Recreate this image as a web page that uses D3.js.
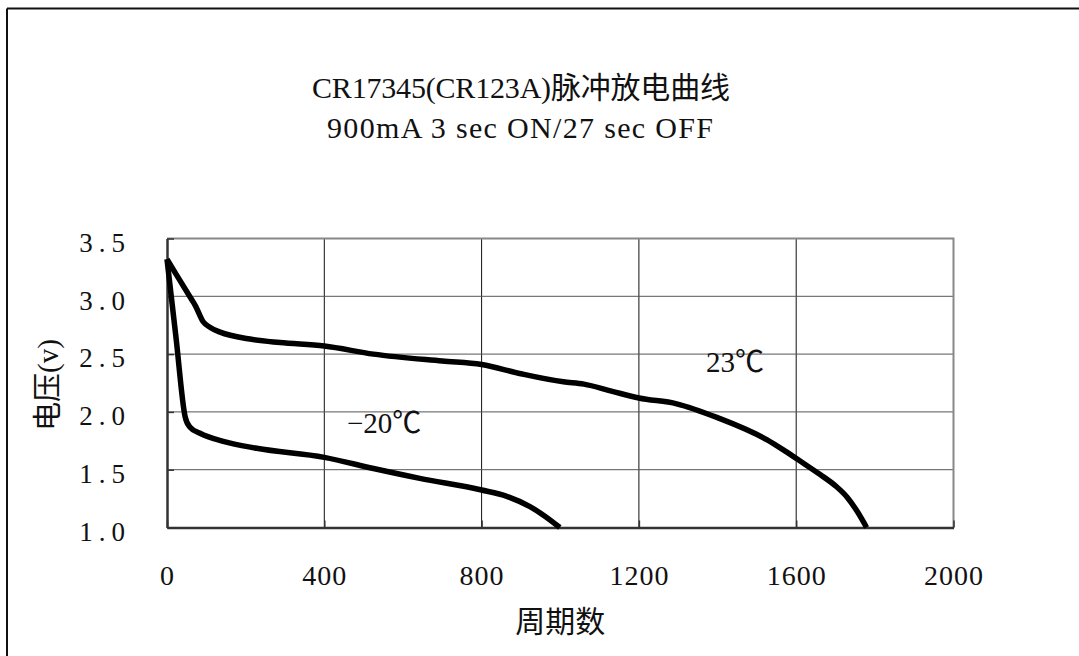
<!DOCTYPE html>
<html>
<head>
<meta charset="utf-8">
<script src="https://cdn.jsdelivr.net/npm/d3@7"></script>
<style>
  body { margin: 0; background: #fff; }
  text { font-family: "Liberation Serif", "Noto Sans CJK SC", serif; fill: #111; }
</style>
</head>
<body>
<div id="chart"></div>
<script>
// 23℃ curve
const cycles23 = [0, 63, 72, 92, 110, 135, 211, 287, 400, 525, 700, 800, 900, 1008, 1060, 1130, 1200, 1296, 1400, 1525, 1570, 1610, 1660, 1700, 1730, 1755, 1779];
const volts23 = [3.32, 2.97, 2.92, 2.78, 2.73, 2.69, 2.63, 2.60, 2.57, 2.50, 2.44, 2.41, 2.33, 2.26, 2.24, 2.18, 2.12, 2.07, 1.95, 1.76, 1.665, 1.575, 1.46, 1.36, 1.26, 1.14, 1.00];
// -20℃ curve
const cyclesM20 = [0, 23, 46, 58, 84, 143, 228, 400, 525, 643, 800, 864, 923, 960, 999];
const voltsM20 = [3.32, 2.64, 1.96, 1.87, 1.815, 1.745, 1.685, 1.607, 1.51, 1.425, 1.324, 1.27, 1.18, 1.10, 1.00];

const xTicks = [0, 400, 800, 1200, 1600, 2000];
const yTicks = [1.0, 1.5, 2.0, 2.5, 3.0, 3.5];

const width = 1079;
const height = 656;
const margin = { top: 238.5, bottom: 128.5, left: 167, right: 125 };

const svg = d3.select('#chart')
    .append('svg')
    .attr('width', width)
    .attr('height', height);

const x = d3.scaleLinear()
    .domain([0, 2000])
    .range([margin.left, width - margin.right - 0.5]);

const y = d3.scaleLinear()
    .domain([1.0, 3.5])
    .range([height - margin.bottom, margin.top]);

// outer frame (only top and left are visible)
svg.append('line')
    .attr('x1', 7).attr('x2', width).attr('y1', 8.5).attr('y2', 8.5)
    .attr('stroke', '#111').attr('stroke-width', 2);
svg.append('line')
    .attr('x1', 7).attr('x2', 7).attr('y1', 8.5).attr('y2', height)
    .attr('stroke', '#111').attr('stroke-width', 2);

// grid
svg.append('g')
    .selectAll('line')
    .data(xTicks.slice(1, -1))
    .join('line')
    .attr('x1', d => x(d)).attr('x2', d => x(d))
    .attr('y1', y(3.5)).attr('y2', y(1.0))
    .attr('stroke', '#111').attr('stroke-width', 1);

svg.append('g')
    .selectAll('line')
    .data(yTicks.slice(1, -1))
    .join('line')
    .attr('x1', x(0)).attr('x2', x(2000))
    .attr('y1', d => y(d)).attr('y2', d => y(d))
    .attr('stroke', '#555').attr('stroke-width', 1);

// top and right border, grey
svg.append('path')
    .attr('d', `M${x(0)},${y(3.5)}H${x(2000)}V${y(1.0)}`)
    .attr('fill', 'none')
    .attr('stroke', '#888')
    .attr('stroke-width', 2);

function xAxis(g) {
    g.attr('transform', `translate(0,${y(1.0)})`)
        .call(d3.axisBottom(x).tickValues(xTicks).tickFormat(d3.format('d')).tickSize(-7).tickSizeOuter(0))
        .call(g => g.select('.domain').attr('stroke', '#333').attr('stroke-width', 2.5))
        .call(g => g.selectAll('.tick line').attr('stroke', '#333').attr('stroke-width', 1.5))
        .call(g => g.selectAll('.tick text')
            .attr('y', 57.5).attr('dy', 0)
            .attr('font-size', 28)
            .attr('letter-spacing', 1)
            .attr('fill', '#111'));
}

function yAxis(g) {
    g.attr('transform', `translate(${x(0)},0)`)
        .call(d3.axisLeft(y).tickValues(yTicks).tickFormat(d3.format('.1f')).tickSize(-7).tickSizeOuter(0).tickPadding(36))
        .call(g => g.select('.domain').attr('stroke', '#333').attr('stroke-width', 2.5))
        .call(g => g.selectAll('.tick line').attr('stroke', '#333').attr('stroke-width', 1.5))
        .call(g => g.selectAll('.tick text')
            .attr('dy', '0.47em')
            .attr('font-size', 27)
            .attr('letter-spacing', 6)
            .attr('fill', '#111'));
}

svg.append('g').call(xAxis);
svg.append('g').call(yAxis);

// curves
const line = d3.line()
    .x(d => x(d[0]))
    .y(d => y(d[1]))
    .curve(d3.curveMonotoneX);

svg.append('path')
    .datum(d3.zip(cycles23, volts23))
    .attr('d', line)
    .attr('fill', 'none')
    .attr('stroke', '#000')
    .attr('stroke-width', 5.5)
    .attr('stroke-linejoin', 'round');

svg.append('path')
    .datum(d3.zip(cyclesM20, voltsM20))
    .attr('d', line)
    .attr('fill', 'none')
    .attr('stroke', '#000')
    .attr('stroke-width', 5.5)
    .attr('stroke-linejoin', 'round');

// curve labels
svg.append('text')
    .attr('x', 706).attr('y', 372)
    .attr('font-size', 29)
    .text('23℃');
svg.append('text')
    .attr('x', 347).attr('y', 433)
    .attr('font-size', 29)
    .text('−20℃');

// titles
svg.append('text')
    .attr('x', 312).attr('y', 98)
    .attr('font-size', 30)
    .attr('textLength', 418)
    .attr('lengthAdjust', 'spacing')
    .text('CR17345(CR123A)脉冲放电曲线');
svg.append('text')
    .attr('x', 327).attr('y', 138)
    .attr('font-size', 30)
    .attr('textLength', 386)
    .attr('lengthAdjust', 'spacing')
    .text('900mA 3 sec ON/27 sec OFF');

// axis titles
svg.append('text')
    .attr('x', x(1000)).attr('y', 632)
    .attr('text-anchor', 'middle')
    .attr('font-size', 30)
    .text('周期数');
svg.append('text')
    .attr('transform', 'translate(58,385) rotate(-90)')
    .attr('text-anchor', 'middle')
    .attr('font-size', 29)
    .text('电压(v)');
</script>
</body>
</html>
